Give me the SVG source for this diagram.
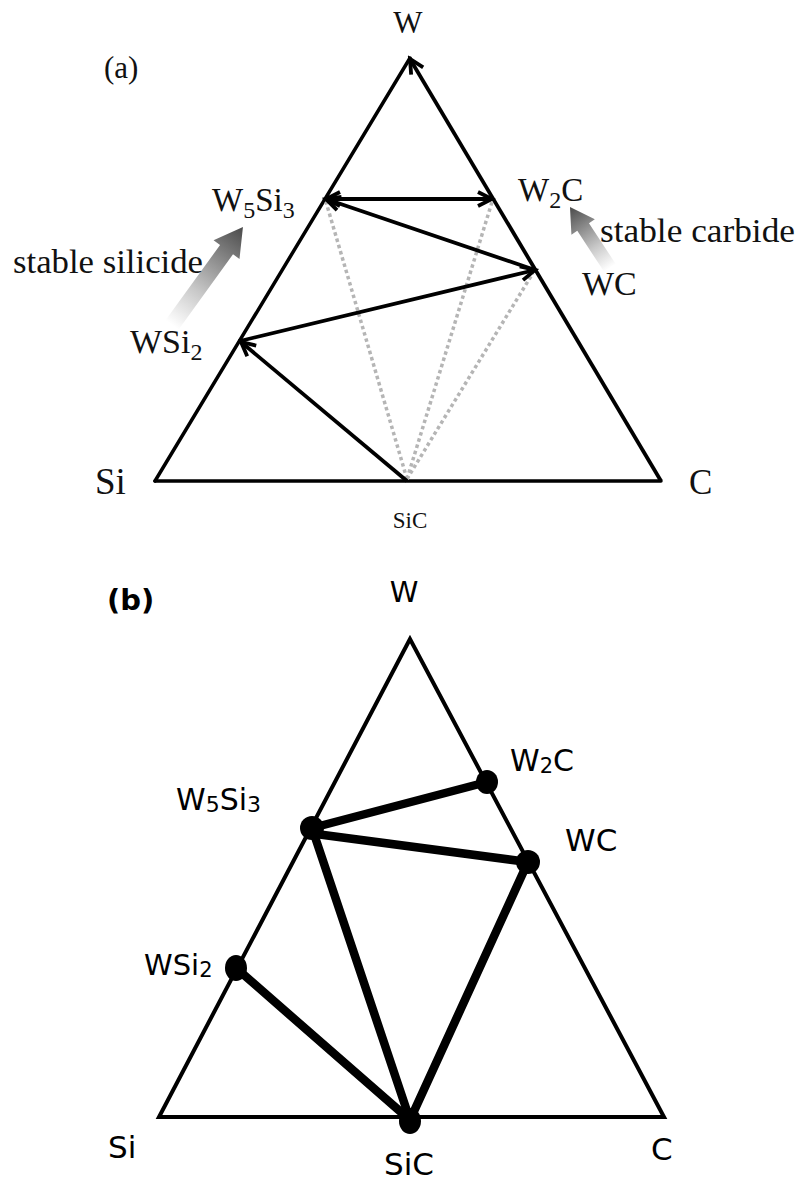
<svg xmlns="http://www.w3.org/2000/svg" width="798" height="1182" viewBox="0 0 798 1182">
<style>
.serif{font-family:"Liberation Serif","Times New Roman",serif;fill:#111}
.sans{font-family:"DejaVu Sans",Verdana,sans-serif;fill:#000}
.edge{stroke:#000;stroke-width:3.5;fill:none;stroke-linecap:round}
.arr{stroke:#000;stroke-width:3.8;fill:none}
.dot{stroke:#b5b5b5;stroke-width:3.5;stroke-dasharray:3.5 3;fill:none}
.edgeb{stroke:#000;stroke-width:4;fill:none;stroke-linejoin:miter}
.tie{stroke:#000;stroke-width:8.5;fill:none;stroke-linecap:round}
</style>
<defs>
<marker id="head" viewBox="-18 -10 22 20" refX="0" refY="0" markerWidth="22" markerHeight="20" markerUnits="userSpaceOnUse" orient="auto-start-reverse">
<path d="M -14 -7 L 0 0 L -14 7" stroke="#000" stroke-width="3.8" fill="none" stroke-linejoin="miter"/>
</marker>
<linearGradient id="fade" x1="0" y1="0" x2="1" y2="0">
<stop offset="0" stop-color="#ffffff"/>
<stop offset="0.35" stop-color="#c8c8c8"/>
<stop offset="1" stop-color="#4a4a4a"/>
</linearGradient>
</defs>

<!-- ===== Panel (a) ===== -->
<g id="panel-a-label"><text class="serif" x="104" y="78" font-size="31">(a)</text></g>

<g id="a-triangle">
<line class="edge" x1="155" y1="481" x2="410" y2="58"/>
<line class="edge" x1="155" y1="481" x2="661" y2="481"/>
</g>

<g id="a-W"><text class="serif" x="408" y="33" font-size="31" text-anchor="middle">W</text></g>
<g id="a-Si"><text class="serif" x="95" y="494" font-size="37">Si</text></g>
<g id="a-C"><text class="serif" x="689" y="494" font-size="35">C</text></g>
<g id="a-SiC"><text class="serif" x="410" y="528" font-size="23" text-anchor="middle">SiC</text></g>
<g id="a-W5Si3"><text class="serif" x="212" y="211" font-size="33">W<tspan font-size="24" dy="7">5</tspan><tspan dy="-7">Si</tspan><tspan font-size="24" dy="7">3</tspan></text></g>
<g id="a-W2C"><text class="serif" x="518" y="201" font-size="33">W<tspan font-size="24" dy="7">2</tspan><tspan dy="-7">C</tspan></text></g>
<g id="a-WC"><text class="serif" x="582" y="295" font-size="34">WC</text></g>
<g id="a-WSi2"><text class="serif" x="130" y="353" font-size="34">WSi<tspan font-size="24" dy="7">2</tspan></text></g>

<g id="a-stable-silicide">
<polygon points="0,-8 93,-8 93,-16 121,0 93,16 93,8 0,8" fill="url(#fade)" transform="translate(172,325) rotate(-54.1)"/>
<text class="serif" x="13" y="273" font-size="34" textLength="190" lengthAdjust="spacingAndGlyphs">stable silicide</text>
</g>
<g id="a-stable-carbide">
<polygon points="0,-7 49,-7 49,-14 73,0 49,14 49,7 0,7" fill="url(#fade)" transform="translate(610,268) rotate(-123.25)"/>
<text class="serif" x="600" y="242" font-size="34" textLength="195" lengthAdjust="spacingAndGlyphs">stable carbide</text>
</g>

<g id="a-connectors">
<line class="dot" x1="407" y1="479" x2="326" y2="202"/>
<line class="dot" x1="407" y1="479" x2="492" y2="202"/>
<line class="dot" x1="407" y1="479" x2="533" y2="273"/>
<line class="arr" x1="407" y1="481" x2="241" y2="342" marker-end="url(#head)"/>
<line class="arr" x1="240" y1="341" x2="535" y2="270" marker-end="url(#head)"/>
<line class="arr" x1="535" y1="270" x2="326" y2="199" marker-end="url(#head)"/>
<line class="arr" x1="326" y1="199" x2="492" y2="199" marker-start="url(#head)" marker-end="url(#head)"/>
<line class="arr" x1="661" y1="481" x2="410" y2="59" marker-end="url(#head)"/>
</g>

<!-- ===== Panel (b) ===== -->
<g id="panel-b-label"><text class="sans" x="107" y="610" font-size="29" font-weight="bold">(b)</text></g>

<g id="b-triangle">
<polygon class="edgeb" points="410,639 159,1117 664,1117"/>
</g>

<g id="b-connectors">
<line class="tie" x1="312" y1="828" x2="487" y2="782"/>
<line class="tie" x1="316" y1="834" x2="528" y2="862"/>
<line class="tie" x1="312" y1="828" x2="410" y2="1120"/>
<line class="tie" x1="528" y1="862" x2="410" y2="1120"/>
<line class="tie" x1="236" y1="968" x2="410" y2="1120"/>
</g>

<g id="b-W"><text class="sans" x="404" y="602" font-size="29" text-anchor="middle">W</text></g>
<g id="b-W2C">
<ellipse cx="487" cy="782" rx="11" ry="12" fill="#000"/>
<text class="sans" x="510" y="771" font-size="30">W<tspan font-size="21" dy="2">2</tspan><tspan dy="-2">C</tspan></text>
</g>
<g id="b-W5Si3">
<ellipse cx="312" cy="828" rx="12" ry="12" fill="#000"/>
<text class="sans" x="176" y="810" font-size="30">W<tspan font-size="22" dy="2">5</tspan><tspan dy="-2">Si</tspan><tspan font-size="22" dy="2">3</tspan></text>
</g>
<g id="b-WC">
<ellipse cx="528" cy="862" rx="12" ry="12" fill="#000"/>
<text class="sans" x="565" y="851" font-size="31">WC</text>
</g>
<g id="b-WSi2">
<ellipse cx="236" cy="968" rx="11" ry="13" fill="#000"/>
<text class="sans" x="144" y="975" font-size="29">WSi<tspan font-size="21" dy="2">2</tspan></text>
</g>
<g id="b-SiC">
<ellipse cx="410" cy="1121" rx="11" ry="13" fill="#000"/>
<text class="sans" x="409" y="1175" font-size="31" text-anchor="middle">SiC</text>
</g>
<g id="b-Si"><text class="sans" x="108" y="1158" font-size="31">Si</text></g>
<g id="b-C"><text class="sans" x="651" y="1160" font-size="31">C</text></g>
</svg>
